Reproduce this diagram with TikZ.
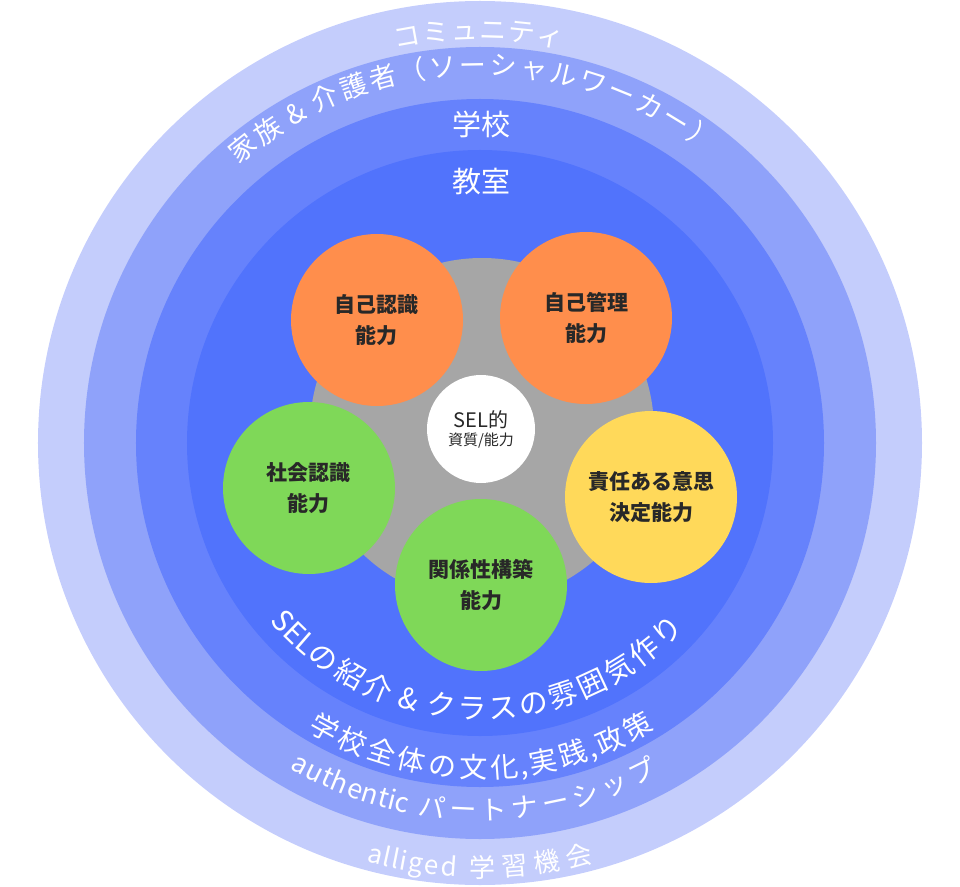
\documentclass[tikz,border=0pt]{standalone}
\usepackage{fontspec}
\setmainfont{Noto Sans CJK JP}
\definecolor{MyCommunity}{RGB}{196, 205, 252}
\definecolor{MyFamily}{RGB}{143, 162, 250}
\definecolor{MySchool}{RGB}{102, 130, 252}
\definecolor{MyClass}{RGB}{81, 115, 252}
\definecolor{MyGray}{RGB}{166, 166, 166}
\definecolor{MyOrange}{RGB}{255, 142, 76}
\definecolor{MyYellow}{RGB}{255, 217, 90}
\definecolor{MyGreen}{RGB}{127, 216, 88}
\definecolor{MyInk}{RGB}{40, 40, 40}
% text set letter by letter round a ring:
% #1 name, #2 baseline radius, #3 start angle, #4 degrees per em, #5 font size, #6 letter/width list
\newcommand{\ringtext}[6]{%
  \foreach \chr/\cw [count=\i, remember=\gnext as \gpos (initially 0), evaluate=\gpos as \gnext using \gpos+\cw] in {#6} {
    \pgfmathsetmacro\gang{#3+#4*(\gpos+\cw/2)}
    \node[glyph, font=\fontsize{#5}{#5}\selectfont, rotate=\gang+90*sign(#4)] (#1-\i) at (\gang:#2) {\chr};
  }%
}

\begin{document}
\begin{tikzpicture}[x=1pt, y=1pt,
  skill/.style={circle, minimum size=172pt, inner sep=0pt, align=center, text=MyInk, font=\bfseries\fontsize{21}{31}\selectfont},
  ringlabel/.style={text=white, font=\fontsize{29}{34}\selectfont},
  glyph/.style={text=white, inner sep=0pt, anchor=base}]
\useasboundingbox (-480,-443) rectangle (480,443);
% rings
\fill[MyCommunity] (0,0) circle (442pt);
\fill[MyFamily] (0,0) circle (396pt);
\fill[MySchool] (0,0) circle (344pt);
\fill[MyClass] (0,0) circle (293pt);
\fill[MyGray] (2,13) circle (172pt);
% labels on the rings
\ringtext{comm}{403pt}{102.2}{-4.0}{27}{コ/1, ミ/1, ュ/1, ニ/1, テ/1, ィ/1}
\ringtext{fam}{368pt}{131.1}{-4.63}{27}{家/1, 族/1, {}/0.25, \&/0.65, {}/0.25, 介/1, 護/1, 者/1, （/1, ソ/1, ー/1, シ/1, ャ/1, ル/1, ワ/1, ー/1, カ/1, ー/1, ）/1}
\node[ringlabel] (school) at (1,319) {学校};
\node[ringlabel] (classroom) at (1,261) {教室};
\ringtext{cls}{276pt}{-139.6}{6.657}{29}{S/0.54, E/0.53, L/0.47, の/1, 紹/1, 介/1, {}/0.25, \&/0.65, {}/0.25, ク/1, ラ/1, ス/1, の/1, 雰/1, 囲/1, 気/1, 作/1, り/1}
\ringtext{whole}{335pt}{-121.4}{5.496}{28}{学/1, 校/1, 全/1, 体/1, の/1, 文/1, 化/1, {,}/0.25, 実/1, 践/1, {,}/0.25, 政/1, 策/1}
\ringtext{part}{377pt}{-120.3}{4.82}{27}{a/0.49, u/0.55, t/0.33, h/0.55, e/0.5, n/0.55, t/0.33, i/0.24, c/0.45, {}/0.25, パ/1, ー/1, ト/1, ナ/1, ー/1, シ/1, ッ/1, プ/1}
\ringtext{learn}{434pt}{-105.3}{4.377}{26}{a/0.49, l/0.26, l/0.26, i/0.24, g/0.51, e/0.5, d/0.55, {}/0.25, 学/1, 習/1, 機/1, 会/1}
% SEL core and the five skills
\node[circle, fill=white, minimum size=108pt, inner sep=0pt, align=center, text=MyInk] (core) at (1,14) {{\fontsize{20}{24}\selectfont SEL的}\\[3pt]{\fontsize{15}{18}\selectfont 資質/能力}};
\node[skill, fill=MyOrange] (selfaware) at (-103,123) {自己認識\\能力};
\node[skill, fill=MyOrange] (selfmanage) at (106,125) {自己管理\\能力};
\node[skill, fill=MyYellow] (decision) at (171,-54) {責任ある意思\\決定能力};
\node[skill, fill=MyGreen] (socialaware) at (-171,-45) {社会認識\\能力};
\node[skill, fill=MyGreen] (relation) at (1,-142) {関係性構築\\能力};
\end{tikzpicture}
\end{document}
